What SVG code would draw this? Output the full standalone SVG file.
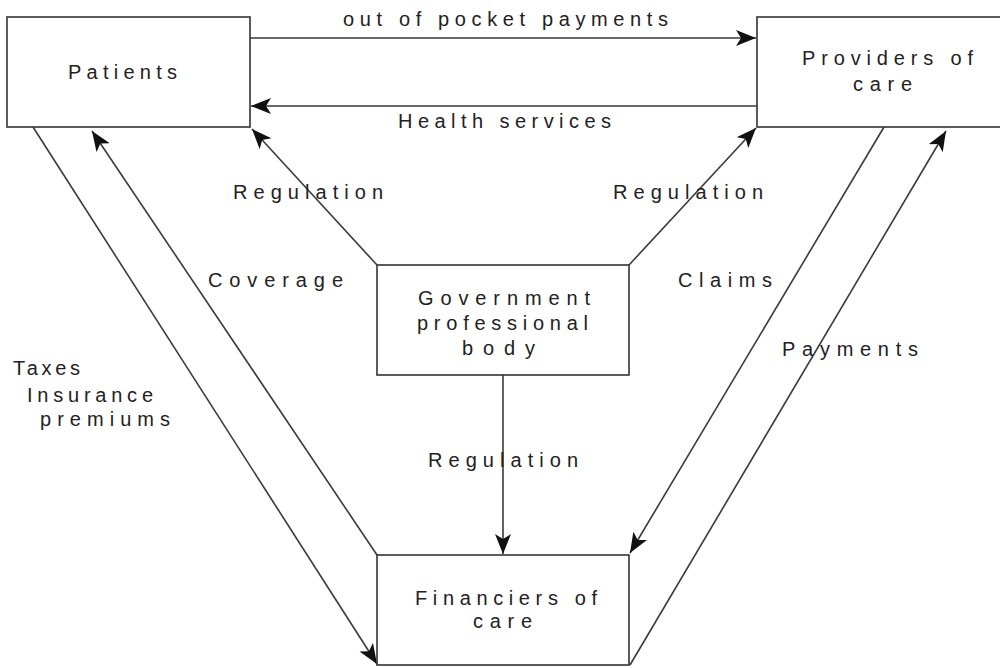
<svg xmlns="http://www.w3.org/2000/svg" width="1000" height="668" viewBox="0 0 1000 668">
<style>
.box{fill:#fff;stroke:#333;stroke-width:1.6}
.t{font-family:"Liberation Sans",Arial,sans-serif;font-size:20px;fill:#222}
.c{fill:none;stroke:#3a3a3a;stroke-width:1.6;marker-end:url(#ah)}
</style>
<defs>
<marker id="ah" markerUnits="userSpaceOnUse" markerWidth="24" markerHeight="20" refX="20" refY="8" orient="auto">
<path d="M0,0 L20,8 L0,16 L5,8 Z" fill="#111"/>
</marker>
</defs>
<rect width="1000" height="668" fill="#fff"/>
<g id="connectors">
<line class="c" x1="250" y1="38" x2="756" y2="38"/>
<line class="c" x1="757" y1="106" x2="251" y2="106"/>
<line class="c" x1="377" y1="265" x2="252" y2="129"/>
<line class="c" x1="629" y1="265" x2="756" y2="128"/>
<line class="c" x1="33" y1="127" x2="377" y2="664"/>
<line class="c" x1="377" y1="555" x2="92" y2="131"/>
<line class="c" x1="884" y1="127" x2="630" y2="553"/>
<line class="c" x1="630" y1="665" x2="946" y2="131"/>
<line class="c" x1="503" y1="375" x2="503" y2="554"/>
</g>
<g id="labels">
<text class="t" x="343" y="26" textLength="325" lengthAdjust="spacing">out of pocket payments</text>
<text class="t" x="398" y="128" textLength="213" lengthAdjust="spacing">Health services</text>
<text class="t" x="233" y="199" textLength="150" lengthAdjust="spacing">Regulation</text>
<text class="t" x="613" y="199" textLength="150" lengthAdjust="spacing">Regulation</text>
<text class="t" x="208" y="287" textLength="135" lengthAdjust="spacing">Coverage</text>
<text class="t" x="678" y="287" textLength="94" lengthAdjust="spacing">Claims</text>
<text class="t" x="782" y="356" textLength="136" lengthAdjust="spacing">Payments</text>
<text class="t" x="13" y="375" textLength="67" lengthAdjust="spacing">Taxes</text>
<text class="t" x="27" y="402" textLength="126" lengthAdjust="spacing">Insurance</text>
<text class="t" x="40" y="426" textLength="130" lengthAdjust="spacing">premiums</text>
<text class="t" x="428" y="467" textLength="150" lengthAdjust="spacing">Regulation</text>
</g>
<g id="patients">
<rect class="box" x="7" y="17" width="243" height="110"/>
<text class="t" x="68" y="79" textLength="109" lengthAdjust="spacing">Patients</text>
</g>
<g id="providers">
<rect class="box" x="757" y="17" width="260" height="110"/>
<text class="t" x="802" y="65" textLength="171" lengthAdjust="spacing">Providers of</text>
<text class="t" x="853" y="91" textLength="59" lengthAdjust="spacing">care</text>
</g>
<g id="government">
<rect class="box" x="377" y="265" width="252" height="110"/>
<text class="t" x="418" y="305" textLength="172" lengthAdjust="spacing">Government</text>
<text class="t" x="417" y="330" textLength="171" lengthAdjust="spacing">professional</text>
<text class="t" x="462" y="355" textLength="73" lengthAdjust="spacing">body</text>
</g>
<g id="financiers">
<rect class="box" x="377" y="555" width="252" height="110"/>
<text class="t" x="415" y="605" textLength="182" lengthAdjust="spacing">Financiers of</text>
<text class="t" x="473" y="628" textLength="59" lengthAdjust="spacing">care</text>
</g>
</svg>
